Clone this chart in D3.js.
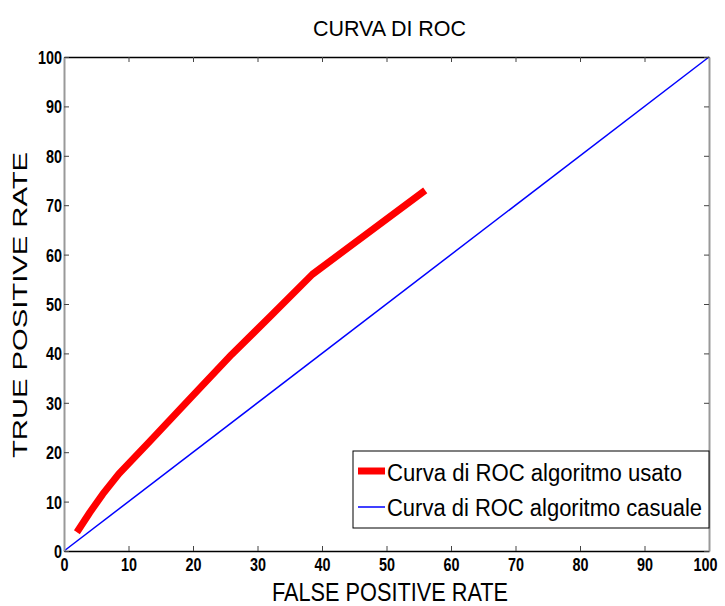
<!DOCTYPE html>
<html><head><meta charset="utf-8">
<script src="https://cdn.jsdelivr.net/npm/d3@7"></script>
<style>body{margin:0;background:#fff}svg{display:block}text{font-family:"Liberation Sans",Arial,sans-serif}</style>
</head><body>
<svg id="c" width="725" height="606"></svg>
<script>
const rocX = [2, 4, 6, 8.5, 13.3, 20, 26, 32, 38.5, 56];
const rocY = [3.8, 7.8, 11.5, 15.6, 22.2, 31.5, 39.8, 47.5, 56, 73];
const randX = [0, 100];
const randY = [0, 100];
const ticks = [0,10,20,30,40,50,60,70,80,90,100];
const seriesNames = ["Curva di ROC algoritmo usato", "Curva di ROC algoritmo casuale"];
const titleText = "CURVA DI ROC";
const xLabel = "FALSE POSITIVE RATE";
const yLabel = "TRUE POSITIVE RATE";

const svg = d3.select("#c");
const L=64, R=709, T=57, B=551;
const x = d3.scaleLinear().domain([0,100]).range([L,R]);
const y = d3.scaleLinear().domain([0,100]).range([B,T]);

svg.append("rect").attr("x",L).attr("y",T).attr("width",R-L).attr("height",B-T).attr("fill","#fff");

// lines
const line = d3.line().x(d=>x(d[0])).y(d=>y(d[1]));
svg.append("path").datum(randX.map((v,i)=>[v,randY[i]])).attr("d",line)
  .attr("fill","none").attr("stroke","#0000ff").attr("stroke-width",1.5);
svg.append("path").datum(rocX.map((v,i)=>[v,rocY[i]])).attr("d",line)
  .attr("fill","none").attr("stroke","#ff0000").attr("stroke-width",7).attr("stroke-linejoin","round");

// axes
const fmt = d3.format("d");
const gx = svg.append("g").attr("transform",`translate(0,${B})`)
  .call(d3.axisBottom(x).tickValues(ticks).tickFormat(fmt).tickSizeInner(-5).tickSizeOuter(0).tickPadding(7));
const gxt = svg.append("g").attr("transform",`translate(0,${T})`)
  .call(d3.axisTop(x).tickValues(ticks).tickFormat("").tickSizeInner(-5).tickSizeOuter(0));
const gy = svg.append("g").attr("transform",`translate(${L},0)`)
  .call(d3.axisLeft(y).tickValues(ticks).tickFormat(fmt).tickSizeInner(-5).tickSizeOuter(0).tickPadding(2));
const gyr = svg.append("g").attr("transform",`translate(${R},0)`)
  .call(d3.axisRight(y).tickValues(ticks).tickFormat("").tickSizeInner(-5).tickSizeOuter(0));
[gx,gxt].forEach(g=>g.select(".domain").attr("stroke","#000").attr("stroke-width",1.5));
[gy,gyr].forEach(g=>g.select(".domain").attr("stroke","#999").attr("stroke-width",2));
[gx,gxt,gy,gyr].forEach(g=>{
  g.selectAll(".tick line").attr("stroke","#444");
  g.selectAll("text").attr("font-family","Liberation Sans, Arial, sans-serif").attr("font-size",18)
    .attr("font-weight","bold").attr("fill","#000")
    .attr("textLength",function(){return this.textContent.length*8;}).attr("lengthAdjust","spacingAndGlyphs");
});
gy.selectAll(".tick text").attr("dy","0.36em");
gx.selectAll(".tick text").attr("dy","0.72em");
gx.selectAll(".tick text").filter(d=>d===100).attr("text-anchor","end").attr("dx","8");

// titles
svg.append("text").attr("x",(L+R)/2+3).attr("y",36).attr("text-anchor","middle")
  .attr("font-size",22).attr("textLength",153).attr("lengthAdjust","spacingAndGlyphs").text(titleText);
svg.append("text").attr("x",390).attr("y",601).attr("text-anchor","middle")
  .attr("font-size",25).attr("textLength",236).attr("lengthAdjust","spacingAndGlyphs").text(xLabel);
svg.append("text").attr("transform",`translate(27,305) rotate(-90)`).attr("text-anchor","middle")
  .attr("font-size",19.5).attr("textLength",306).attr("lengthAdjust","spacingAndGlyphs").text(yLabel);

// legend
const lg = svg.append("g");
lg.append("rect").attr("x",353).attr("y",451).attr("width",R-353).attr("height",77)
  .attr("fill","#fff").attr("stroke","#000").attr("stroke-width",1);
const cols=["#ff0000","#0000ff"], widths=[7,1.5], rows=[471,507], baselines=[481,516], lens=[295,315];
seriesNames.forEach((n,i)=>{
  lg.append("line").attr("x1",358).attr("x2",385).attr("y1",rows[i]).attr("y2",rows[i])
    .attr("stroke",cols[i]).attr("stroke-width",widths[i]);
  lg.append("text").attr("x",387).attr("y",baselines[i])
    .attr("font-size",23).attr("textLength",lens[i]).attr("lengthAdjust","spacingAndGlyphs").text(n);
});
</script>
</body></html>
